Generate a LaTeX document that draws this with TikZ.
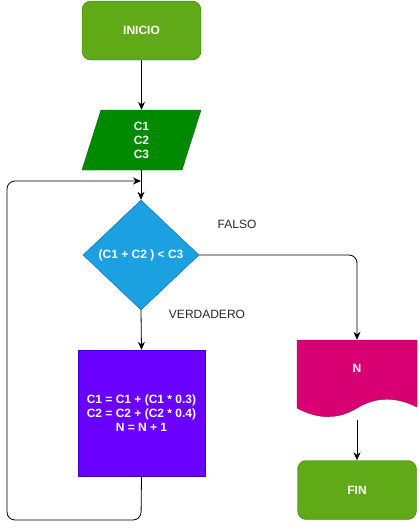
\documentclass[tikz,border=0pt]{standalone}
\usepackage{fontspec}
\setmainfont{Liberation Sans}
\usetikzlibrary{shapes.geometric,arrows.meta}
\definecolor{gfill}{HTML}{60A917}
\definecolor{gdraw}{HTML}{2D7600}
\definecolor{dgfill}{HTML}{008A00}
\definecolor{dgdraw}{HTML}{005700}
\definecolor{bfill}{HTML}{1BA1E2}
\definecolor{bdraw}{HTML}{006EAF}
\definecolor{pfill}{HTML}{6A00FF}
\definecolor{pdraw}{HTML}{3700CC}
\definecolor{mfill}{HTML}{D80073}
\definecolor{mdraw}{HTML}{A50040}
\begin{document}
\begin{tikzpicture}[x=1pt,y=-1pt,
  txt/.style={font=\fontsize{12}{14}\selectfont\bfseries, text=white, align=center, inner sep=0pt},
  term/.style={txt, draw=gdraw, fill=gfill, rounded corners=9pt, minimum width=119pt, minimum height=59pt},
  ghost/.style={txt, draw=none},
  decis/.style={txt, diamond, draw=bdraw, fill=bfill, minimum width=116pt, minimum height=110pt},
  procbox/.style={txt, draw=pdraw, fill=pfill, minimum width=127pt, minimum height=126pt},
  lbl/.style={font=\fontsize{12}{14}\selectfont, text=black!85, inner sep=0pt},
  conn/.style={draw=black, line width=0.8pt, -{Stealth[length=8pt,width=7pt]}},
  loopconn/.style={conn, rounded corners=8pt}
]
\useasboundingbox (0,0) rectangle (418,530);
\node[term] (ini) at (141.5,30.5) {INICIO};
\node[ghost, minimum width=120pt, minimum height=60pt] (par) at (141.5,140) {};
\filldraw[draw=dgdraw, fill=dgfill] (101,110) -- (201,110) -- (182,170) -- (82,170) -- cycle;
\node[ghost] at (par.center) {C1\\C2\\C3};
\node[decis] (dia) at (141,255) {(C1 + C2 ) < C3};
\node[procbox] (proc) at (141.5,413) {C1 = C1 + (C1 * 0.3)\\C2 = C2 + (C2 * 0.4)\\N = N + 1};
\node[ghost, minimum width=120pt, minimum height=80pt] (doc) at (357,380) {};
\filldraw[draw=mdraw, fill=mfill] (297,340) -- (417,340) -- (417,407)
  .. controls (395,396) and (375,397) .. (357,408)
  .. controls (339,419) and (319,420) .. (297,408) -- cycle;
\node[ghost] at (357,368) {N};
\node[term] (fin) at (357,490) {FIN};
\coordinate (j) at (141,181);
\coordinate (lb) at (141,520);
\coordinate (ll) at (7,520);
\coordinate (lt) at (7,181);
\draw[conn] (ini) -- (par.north -| ini.south);
\draw[conn] (par.south -| dia.north) -- (dia.north);
\draw[conn] (dia.south) -- (proc.north);
\draw[loopconn] (proc.south) -- (lb) -- (ll) -- (lt) -- (j);
\draw[loopconn] (dia.east) -| (doc.north);
\draw[conn] (doc.south) -- (fin.north);
\node[lbl] (falso) at (237,224) {FALSO};
\node[lbl] (verd) at (207,314) {VERDADERO};
\end{tikzpicture}
\end{document}
